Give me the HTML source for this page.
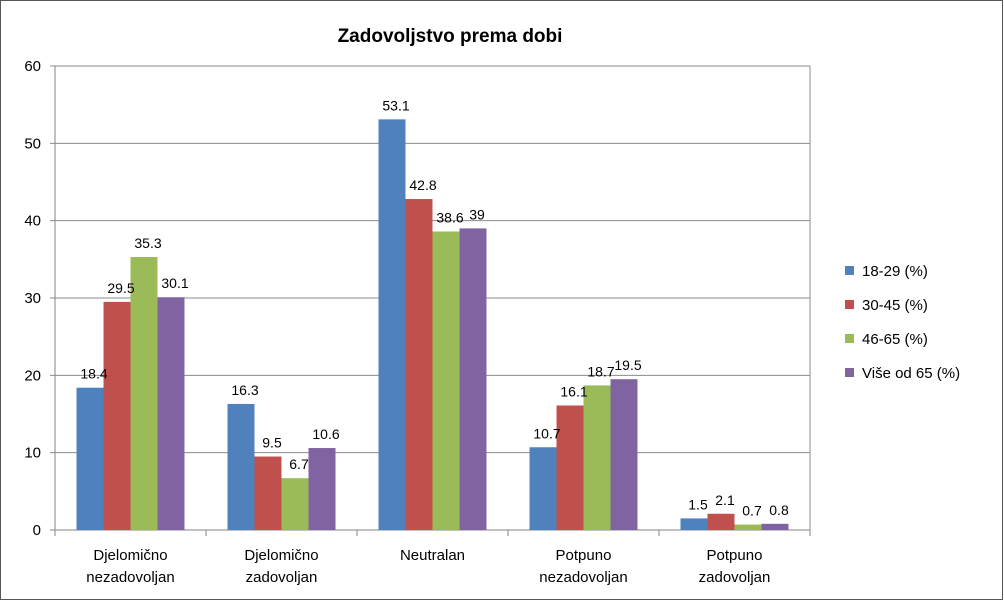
<!DOCTYPE html>
<html><head><meta charset="utf-8"><style>
body{margin:0;background:#fff;}
svg{display:block;font-family:"Liberation Sans",sans-serif;}
</style></head><body>
<svg id="c" width="1004" height="601">
<rect x="0.5" y="0.5" width="1002" height="599" fill="#fff" stroke="#555"/>
<text x="450" y="42" font-size="19" font-weight="bold" text-anchor="middle">Zadovoljstvo prema dobi</text>
<g id="grid"></g><g id="bars"></g><g id="labels"></g><g id="legend"></g>
</svg>
<script>
const categories=[["Djelomično","nezadovoljan"],["Djelomično","zadovoljan"],["Neutralan"],["Potpuno","nezadovoljan"],["Potpuno","zadovoljan"]];
const seriesNames=["18-29 (%)","30-45 (%)","46-65 (%)","Više od 65 (%)"];
const colors=["#4f81bd","#c0504d","#9bbb59","#8064a2"];
const s1=[18.4,16.3,53.1,10.7,1.5];
const s2=[29.5,9.5,42.8,16.1,2.1];
const s3=[35.3,6.7,38.6,18.7,0.7];
const s4=[30.1,10.6,39,19.5,0.8];
const ticks=[0,10,20,30,40,50,60];
const series=[s1,s2,s3,s4];
const NS="http://www.w3.org/2000/svg";
const X0=55,X1=810,Y0=530,Y1=66,MAX=60;
const y=v=>Y0-(v/MAX)*(Y0-Y1);
const cw=(X1-X0)/categories.length, bw=27;
function mk(t,a,p){const e=document.createElementNS(NS,t);for(const k in a)e.setAttribute(k,a[k]);p.appendChild(e);return e;}
const g=document.getElementById('grid');
ticks.forEach(t=>{
 const l=mk('line',{x1:X0-5,x2:X1,y1:y(t),y2:y(t),stroke:t===0?'#868686':'#8c8c8c','stroke-width':1},g);
 
 
 const tx=mk('text',{x:X0-14,y:y(t)+5,'font-size':15,'text-anchor':'end'},g);
 tx.textContent=t;
 
 
});
const ax=mk('line',{x1:X0,x2:X0,y1:Y1,y2:Y0+5,stroke:'#868686'},g);


const rb=mk('line',{x1:X1,x2:X1,y1:Y1,y2:Y0,stroke:'#8c8c8c'},g);


for(let i=0;i<=categories.length;i++){
 const tk=mk('line',{x1:X0+i*cw,x2:X0+i*cw,y1:Y0,y2:Y0+6,stroke:'#868686'},g);
 
 
}
const bg=document.getElementById('bars'),lg=document.getElementById('labels');
categories.forEach((c,i)=>{
 const cx=X0+i*cw+cw/2;
 c.forEach((line,j)=>{
  const t=mk('text',{x:cx,y:Y0+30+j*22,'font-size':15,'text-anchor':'middle'},lg);
  t.textContent=line;
  
  
 });
 series.forEach((s,k)=>{
  const bx=cx-2*bw+k*bw;
  const r=mk('rect',{x:bx,y:y(s[i]),width:bw,height:Y0-y(s[i]),fill:colors[k]},bg);
  
  
  const t=mk('text',{x:bx+bw/2+4,y:y(s[i])-9,'font-size':14,'text-anchor':'middle'},lg);
  t.textContent=s[i];
  
  
 });
});
const L=document.getElementById('legend');
seriesNames.forEach((n,k)=>{
 const yy=271+k*34;
 const r=mk('rect',{x:845,y:yy-5,width:9,height:9,fill:colors[k]},L);
 
 
 const t=mk('text',{x:862,y:yy+5,'font-size':15},L);
 t.textContent=n;
 
 
});
</script>
</body></html>
